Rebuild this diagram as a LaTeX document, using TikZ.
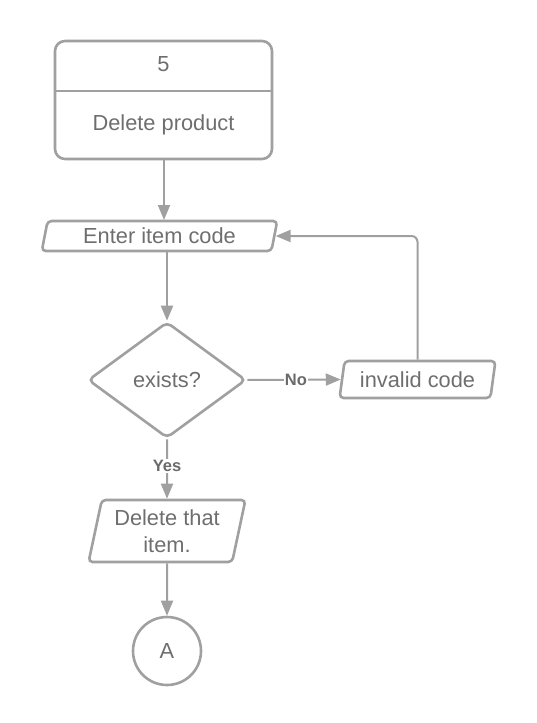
\documentclass[tikz,border=0pt]{standalone}
\usepackage{fontspec}
\setmainfont{Liberation Sans}
\usetikzlibrary{shapes.geometric,arrows.meta}
\definecolor{linegray}{HTML}{A0A0A0}
\definecolor{textgray}{HTML}{6E6E6E}
\definecolor{labelgray}{HTML}{6A6A6A}
\begin{document}
\begin{tikzpicture}[x=1pt,y=-1pt,
  every node/.style={text=textgray,font=\fontsize{21.8}{27}\selectfont},
  shapeline/.style={draw=linegray,line width=2.6pt},
  titlebox/.style={shapeline,rounded corners=10pt,minimum width=217pt,minimum height=118pt,inner sep=0pt},
  para/.style={shapeline,trapezium,trapezium left angle=76,trapezium right angle=104,trapezium stretches=true,rounded corners=4pt,inner sep=0pt},
  decision/.style={shapeline,diamond,minimum width=158pt,minimum height=116pt,inner sep=0pt,rounded corners=5pt},
  connector/.style={shapeline,circle,minimum size=68pt,inner sep=0pt},
  flow/.style={draw=linegray,line width=2pt,-{Triangle[length=15pt,width=12pt]}},
  lbl/.style={fill=white,text=labelgray,font=\fontsize{16.5}{18}\selectfont\bfseries,inner sep=1pt}
]
\useasboundingbox (0,0) rectangle (537,723);
\node[titlebox] (top) at (163.5,100) {};
\draw[draw=linegray,line width=2.6pt] (top.west |- 0,91) -- (top.east |- 0,91);
\node (num) at (163.5,64) {5};
\node (title) at (163.5,125) {Delete product};
\node[para,minimum width=236pt,minimum height=30pt] (enter) at (159.5,236) {Enter item code};
\node[decision] (dia) at (167,380) {exists?};
\node[para,minimum width=156pt,minimum height=37pt] (inv) at (417.5,379.5) {invalid code};
\node[para,minimum width=157pt,minimum height=62pt,align=center] (del) at (167,531) {Delete that\\item.};
\node[connector] (A) at (167,651) {A};

\draw[flow] (top.south -| 164,0) -- (164,220);
\draw[flow] (dia.north |- enter.south) -- (dia.north);
\draw[flow] (dia.east) -- node[lbl,pos=0.52] (no) {No} (inv.west);
\draw[flow] (dia.south) -- node[lbl,pos=0.45] (yes) {Yes} (del.north);
\draw[flow] (del.south) -- (A.north);
\draw[flow,rounded corners=6pt] (inv.north) -- (inv.north |- enter.east) -- (enter.east);
\end{tikzpicture}
\end{document}
